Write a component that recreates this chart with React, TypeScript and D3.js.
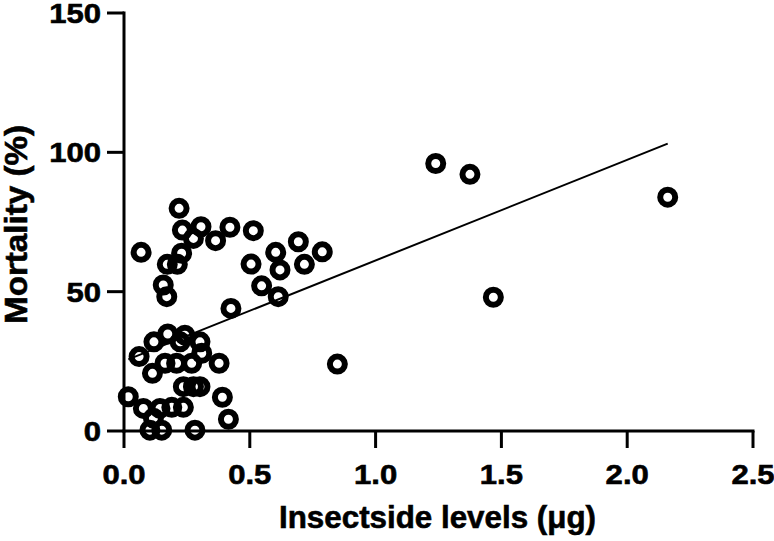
import React from "react";
import * as d3 from "d3";

const xValues: number[] = [
  // upper cluster
  0.219, 0.068, 0.232, 0.306, 0.276, 0.421, 0.364, 0.514, 0.229, 0.172, 0.212,
  0.156, 0.170, 0.425, 0.505, 0.603, 0.620, 0.693, 0.717, 0.788, 0.547, 0.613,
  // outliers
  1.239, 1.375, 2.161, 1.468, 0.848,
  // lower cluster
  0.119, 0.174, 0.242, 0.223, 0.302, 0.060, 0.309, 0.163, 0.209, 0.269, 0.378,
  0.113, 0.236, 0.276, 0.302, 0.017, 0.391, 0.077, 0.143, 0.190, 0.236, 0.415,
  0.117, 0.103, 0.150, 0.282,
];
const yValues: number[] = [
  79.9, 64.1, 72.1, 73.3, 69.1, 73.1, 68.3, 71.9, 63.8, 59.8, 59.8,
  52.4, 48.2, 44.0, 59.9, 64.1, 57.8, 67.9, 59.8, 64.3, 52.1, 48.2,
  96.0, 92.1, 83.9, 48.0, 24.0,
  32.0, 34.8, 34.4, 32.0, 32.0, 26.7, 27.9, 24.3, 24.3, 24.3, 24.3,
  20.7, 15.9, 15.9, 15.9, 12.3, 12.1, 8.1, 8.1, 8.5, 8.5, 4.2,
  4.6, 0.3, 0.3, 0.3,
];

const xTicks: number[] = [0, 0.5, 1.0, 1.5, 2.0, 2.5];
const yTicks: number[] = [0, 50, 100, 150];
const fitSlope = 36.1;
const fitIntercept = 25.1;
const xTitle = "Insectside levels (\u03BCg)";
const yTitle = "Mortality (%)";

const W = 774;
const H = 541;
const FONT = "'Liberation Sans', Arial, Helvetica, sans-serif";

export default function App() {
  const x = d3.scaleLinear().domain([0, 2.5]).range([124, 753]);
  const y = d3.scaleLinear().domain([0, 150]).range([431, 13]);
  const points = xValues.map((v, i) => ({ x: v, y: yValues[i] }));
  const xMin = d3.min(xValues) as number;
  const xMax = d3.max(xValues) as number;
  const fitLine = d3
    .line<number>()
    .x((d) => x(d))
    .y((d) => y(fitIntercept + fitSlope * d))([xMin, xMax]);
  const tickLen = 17;
  const axisW = 3;

  return (
    <svg
      width={W}
      height={H}
      style={{ position: "absolute", left: 0, top: 0, background: "#fff" }}
    >
      <rect x={0} y={0} width={W} height={H} fill="#fff" />
      {/* axes */}
      <line x1={x(0)} x2={x(2.5)} y1={y(0)} y2={y(0)} stroke="#000" strokeWidth={axisW} strokeLinecap="square" />
      <line x1={x(0)} x2={x(0)} y1={y(0)} y2={y(150)} stroke="#000" strokeWidth={axisW} strokeLinecap="square" />
      {xTicks.map((t) => (
        <g key={"xt" + t}>
          <line x1={x(t)} x2={x(t)} y1={y(0)} y2={y(0) + tickLen} stroke="#000" strokeWidth={axisW} />
          <text
            transform={`translate(${x(t)},484) scale(1.15,1)`}
            textAnchor="middle"
            fontFamily={FONT}
            fontWeight="bold"
            fontSize={27}
            fill="#000"
            stroke="#000"
            strokeWidth={0.6}
          >
            {d3.format(".1f")(t)}
          </text>
        </g>
      ))}
      {yTicks.map((t) => (
        <g key={"yt" + t}>
          <line x1={x(0) - tickLen} x2={x(0)} y1={y(t)} y2={y(t)} stroke="#000" strokeWidth={axisW} />
          <text
            transform={`translate(101,${y(t) + 10}) scale(1.15,1)`}
            textAnchor="end"
            fontFamily={FONT}
            fontWeight="bold"
            fontSize={27}
            fill="#000"
            stroke="#000"
            strokeWidth={0.6}
          >
            {String(t)}
          </text>
        </g>
      ))}
      {/* regression line */}
      <path d={fitLine || ""} fill="none" stroke="#000" strokeWidth={2} />
      {/* points */}
      {points.map((p, i) => (
        <circle key={i} cx={x(p.x)} cy={y(p.y)} r={7.5} fill="none" stroke="#000" strokeWidth={6} />
      ))}
      {/* titles */}
      <text
        x={279}
        y={528}
        textLength={317}
        lengthAdjust="spacingAndGlyphs"
        fontFamily={FONT}
        fontWeight="bold"
        fontSize={32}
        fill="#000"
        stroke="#000"
        strokeWidth={0.6}
      >
        {xTitle}
      </text>
      <text
        transform={`translate(27,324) rotate(-90)`}
        x={0}
        y={0}
        textLength={199}
        lengthAdjust="spacingAndGlyphs"
        fontFamily={FONT}
        fontWeight="bold"
        fontSize={31}
        fill="#000"
        stroke="#000"
        strokeWidth={0.6}
      >
        {yTitle}
      </text>
    </svg>
  );
}
